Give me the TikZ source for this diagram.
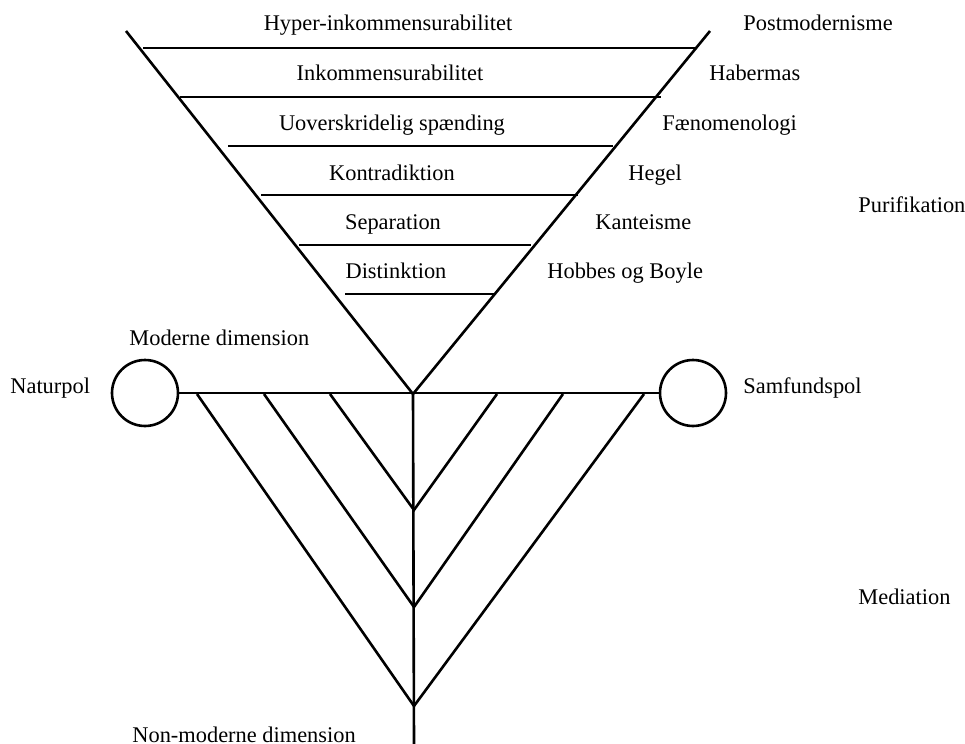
\documentclass[tikz,border=0pt]{standalone}
\usepackage{fontspec}
\setmainfont{Liberation Serif}
\usepackage{tikz}
\tikzstyle{txt} = [inner sep=0pt, anchor=base, font=\fontsize{11.2pt}{13pt}\selectfont]
\tikzstyle{side} = [txt, anchor=base west]
\tikzstyle{pol} = [circle, draw, line width=1.3pt, inner sep=0pt, minimum size=33pt]
\tikzstyle{line} = [draw, line width=1.3pt]

\begin{document}
\begin{tikzpicture}[x=0.5pt, y=-0.5pt]
    \useasboundingbox (0,0) rectangle (965,744);

    % purification triangle
    \coordinate (tl) at (126,31);
    \coordinate (tr) at (710,31);
    \coordinate (apex) at (413,394);
    \path [line] (tl) -- (apex) -- (tr);

    \coordinate (r1a) at (143,48);  \coordinate (r1b) at (695,48);
    \coordinate (r2a) at (180,97);  \coordinate (r2b) at (661,97);
    \coordinate (r3a) at (228,146); \coordinate (r3b) at (613,146);
    \coordinate (r4a) at (261,195); \coordinate (r4b) at (578,195);
    \coordinate (r5a) at (299,245); \coordinate (r5b) at (531,245);
    \coordinate (r6a) at (345,294); \coordinate (r6b) at (496,294);
    \path [line] (r1a) -- (r1b);
    \path [line] (r2a) -- (r2b);
    \path [line] (r3a) -- (r3b);
    \path [line] (r4a) -- (r4b);
    \path [line] (r5a) -- (r5b);
    \path [line] (r6a) -- (r6b);

    \node [txt] (hyper) at (388,31) {Hyper-inkommensurabilitet};
    \node [txt] (inkom) at (390,80) {Inkommensurabilitet};
    \node [txt] (uover) at (392,130) {Uoverskridelig spænding};
    \node [txt] (kontra) at (392,180) {Kontradiktion};
    \node [txt] (separ) at (393,229) {Separation};
    \node [txt] (dist) at (396,278) {Distinktion};

    \node [side] (postmod) at (743,31) {Postmodernisme};
    \node [side] (haber) at (709,80) {Habermas};
    \node [side] (faenom) at (662,130) {Fænomenologi};
    \node [side] (hegel) at (628,180) {Hegel};
    \node [side] (kant) at (595,229) {Kanteisme};
    \node [side] (hobbes) at (547,278) {Hobbes og Boyle};
    \node [side] (purif) at (858,212) {Purifikation};

    % poles and mediation
    \node [pol] (natur) at (145,393) {};
    \node [pol] (samfund) at (693,393) {};
    \node [side] (naturlbl) at (10,393) {Naturpol};
    \node [side] (samfundlbl) at (743,393) {Samfundspol};
    \node [side] (moderne) at (129,345) {Moderne dimension};
    \node [side] (nonmod) at (132,742) {Non-moderne dimension};
    \node [side] (medi) at (858,604) {Mediation};

    \path [line] (natur) -- (samfund);
    \coordinate (stem) at (414,744);
    \path [line] (apex) -- (stem);

    \coordinate (v1) at (414,510);
    \coordinate (v2) at (414,607);
    \coordinate (v3) at (414,706);
    \coordinate (b1l) at (330,394); \coordinate (b1r) at (497,394);
    \coordinate (b2l) at (264,394); \coordinate (b2r) at (563,394);
    \coordinate (b3l) at (197,394); \coordinate (b3r) at (644,394);
    \path [line] (b1l) -- (v1) -- (b1r);
    \path [line] (b2l) -- (v2) -- (b2r);
    \path [line] (b3l) -- (v3) -- (b3r);
\end{tikzpicture}
\end{document}
